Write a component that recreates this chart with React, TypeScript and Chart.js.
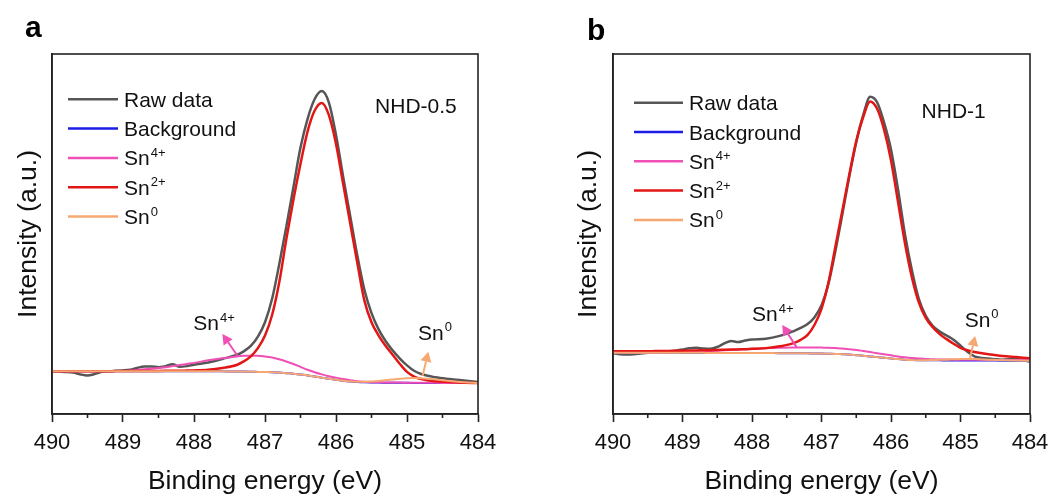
import React, { useEffect, useRef } from 'react';
import { Chart, registerables } from 'chart.js';

Chart.register(...registerables);

const FONT = '"Liberation Sans", Arial, Helvetica, sans-serif';

// ---------- shared axis / series definitions ----------
const xTickValues = [490, 489, 488, 487, 486, 485, 484];
const xMinorTickValues = [489.5, 488.5, 487.5, 486.5, 485.5, 484.5];
const seriesLabels = ['Raw data', 'Background', 'Sn^4+', 'Sn^2+', 'Sn^0'];
const seriesColors = ['#565656', '#1c1ce6', '#f04fb6', '#e31616', '#f6a872'];
const seriesWidths = [2.5, 2, 2, 2.5, 2];
const seriesOrder = [5, 4, 3, 2, 1];

// ---------- panel a (NHD-0.5) ----------
const energyA = [
  490, 489.9, 489.8, 489.7, 489.6, 489.5, 489.4, 489.3, 489.2, 489.1, 489.0,
  488.9, 488.8, 488.7, 488.6, 488.5, 488.4, 488.3, 488.2, 488.1, 488.0,
  487.8, 487.6, 487.4, 487.3, 487.2, 487.1, 487.0, 486.9, 486.8, 486.7, 486.6,
  486.5, 486.4, 486.3, 486.2, 486.1, 486.0, 485.9, 485.8, 485.7, 485.6,
  485.5, 485.4, 485.3, 485.2, 485.1, 485.0, 484.9, 484.8, 484.6, 484.4,
  484.2, 484.0,
];
const rawA = [
  11.9, 11.8, 11.7, 11.5, 11.0, 10.7, 11.1, 11.7, 11.9, 12.0, 12.1,
  12.3, 12.8, 13.2, 13.2, 13.0, 13.3, 13.8, 13.1, 13.3, 13.7,
  14.3, 15.3, 16.4, 17.4, 18.9, 21.5, 25.5, 32, 41.5, 52, 63,
  74, 82, 87.5, 89.7, 86.5, 77.5, 66, 55, 44, 34.5,
  28, 23.5, 20.2, 17.6, 15.4, 13.5, 12.0, 11.1, 10.2, 9.7,
  9.3, 8.9,
];
const backgroundA = [
  11.9, 11.9, 11.9, 11.9, 11.9, 11.9, 11.9, 11.9, 11.9, 11.9, 11.9,
  11.9, 11.9, 11.9, 11.9, 11.9, 11.9, 11.9, 11.9, 11.9, 11.9,
  11.9, 11.85, 11.8, 11.78, 11.75, 11.7, 11.65, 11.6, 11.5, 11.35, 11.2,
  11.0, 10.7, 10.4, 10.1, 9.8, 9.5, 9.25, 9.05, 8.9, 8.8,
  8.75, 8.72, 8.7, 8.68, 8.66, 8.65, 8.64, 8.63, 8.62, 8.61,
  8.6, 8.6,
];
const sn4A = [
  11.9, 11.9, 11.9, 11.9, 11.9, 11.9, 11.9, 11.92, 11.93, 11.94, 11.95,
  12.05, 12.2, 12.4, 12.6, 12.8, 13.0, 13.3, 13.6, 13.9, 14.2,
  14.9, 15.5, 16.0, 16.15, 16.2, 16.2, 16.0, 15.7, 15.2, 14.6, 13.9,
  13.1, 12.3, 11.6, 11.0, 10.5, 10.1, 9.7, 9.4, 9.1, 8.95,
  8.85, 8.8, 8.76, 8.74, 8.72, 8.7, 8.68, 8.67, 8.65, 8.63,
  8.61, 8.6,
];
const sn2A = [
  11.9, 11.9, 11.9, 11.9, 11.9, 11.9, 11.9, 11.9, 11.9, 11.91, 11.92,
  11.93, 11.94, 11.95, 11.96, 11.97, 11.98, 11.99, 12.0, 12.05, 12.1,
  12.3, 12.8, 13.6, 14.6, 16.0, 18.3, 21.8, 27.5, 36.5, 48.5, 59.5,
  69.5, 78.5, 84.3, 86.4, 83, 75, 64, 53, 42, 31.5,
  25.5, 21.8, 18.9, 16.4, 13.9, 11.7, 10.4, 9.7, 9.1, 8.9,
  8.7, 8.6,
];
const sn0A = [
  11.9, 11.9, 11.9, 11.9, 11.9, 11.9, 11.9, 11.9, 11.9, 11.9, 11.9,
  11.9, 11.9, 11.9, 11.9, 11.9, 11.9, 11.9, 11.9, 11.9, 11.9,
  11.9, 11.85, 11.8, 11.78, 11.75, 11.7, 11.65, 11.6, 11.5, 11.35, 11.2,
  11.0, 10.7, 10.4, 10.1, 9.8, 9.5, 9.25, 9.05, 8.95, 8.95,
  9.05, 9.2, 9.4, 9.6, 9.8, 9.95, 10.0, 9.95, 9.6, 9.15,
  8.8, 8.6,
];

// ---------- panel b (NHD-1) ----------
const energyB = [
  490, 489.9, 489.8, 489.7, 489.6, 489.5, 489.4, 489.3, 489.2, 489.1, 489.0,
  488.9, 488.8, 488.7, 488.6, 488.5, 488.4, 488.3, 488.2, 488.1, 488.0,
  487.8, 487.6, 487.4, 487.3, 487.2, 487.1, 487.0, 486.9, 486.8, 486.7, 486.6,
  486.5, 486.4, 486.3, 486.2, 486.1, 486.0, 485.9, 485.8, 485.7, 485.6,
  485.5, 485.4, 485.3, 485.2, 485.1, 485.0, 484.9, 484.8, 484.6, 484.4,
  484.2, 484.0,
];
const rawB = [
  16.9, 16.6, 16.5, 16.6, 16.8, 17.0, 17.2, 17.1, 17.3, 17.6, 17.9,
  18.3, 18.4, 18.2, 18.1, 18.6, 19.6, 20.3, 20.0, 20.4, 20.7,
  20.9, 21.7, 23.0, 23.9, 25.0, 26.9, 30.2, 36.2, 45.3, 55.5, 66,
  75.5, 83, 88.1, 86.6, 81, 73.5, 62.5, 50, 40, 32,
  27.3, 24.5, 22.9, 21.8, 20.6, 19.0, 17.3, 16.0, 15.4, 15.1,
  15.3, 14.6,
];
const backgroundB = [
  17.0, 17.0, 17.0, 17.0, 17.0, 17.0, 17.0, 17.0, 17.0, 17.0, 17.0,
  16.99, 16.98, 16.98, 16.97, 16.97, 16.96, 16.96, 16.95, 16.95, 16.95,
  16.95, 16.9, 16.9, 16.88, 16.85, 16.8, 16.8, 16.75, 16.7, 16.6, 16.5,
  16.35, 16.2, 16.0, 15.8, 15.6, 15.4, 15.25, 15.1, 15.0, 14.95,
  14.93, 14.92, 14.9, 14.89, 14.88, 14.87, 14.86, 14.85, 14.84, 14.82,
  14.81, 14.8,
];
const sn4B = [
  17.0, 17.0, 17.0, 17.01, 17.02, 17.05, 17.08, 17.1, 17.13, 17.16, 17.2,
  17.25, 17.3, 17.4, 17.5, 17.6, 17.7, 17.8, 17.9, 18.0, 18.1,
  18.25, 18.4, 18.5, 18.5, 18.5, 18.5, 18.45, 18.4, 18.3, 18.2, 18.0,
  17.8, 17.5, 17.2, 16.9, 16.6, 16.3, 16.0, 15.75, 15.55, 15.4,
  15.3, 15.2, 15.15, 15.12, 15.1, 15.08, 15.06, 15.05, 15.03, 15.02,
  15.01, 15.0,
];
const sn2B = [
  17.4, 17.41, 17.42, 17.43, 17.44, 17.45, 17.47, 17.49, 17.52, 17.56, 17.6,
  17.63, 17.66, 17.7, 17.73, 17.8, 17.85, 17.9, 17.95, 18.0, 18.1,
  18.3, 18.8, 19.7, 20.6, 22.0, 24.8, 29.2, 36.5, 46.5, 56.5, 66.5,
  75.8, 82.5, 86.8, 84.8, 79, 70.5, 59, 47.5, 38, 31,
  26.7, 24.1, 22.2, 20.8, 19.5, 18.4, 17.7, 17.2, 16.6, 16.1,
  15.8, 15.5,
];
const sn0B = [
  17.0, 17.0, 17.0, 17.0, 17.0, 17.0, 17.0, 17.0, 17.0, 17.0, 17.0,
  16.99, 16.98, 16.98, 16.97, 16.97, 16.96, 16.96, 16.95, 16.95, 16.95,
  16.95, 16.9, 16.9, 16.88, 16.85, 16.8, 16.8, 16.75, 16.7, 16.6, 16.5,
  16.35, 16.2, 16.0, 15.8, 15.6, 15.4, 15.25, 15.1, 15.0, 14.95,
  14.95, 15.0, 15.05, 15.1, 15.2, 15.25, 15.3, 15.25, 15.1, 14.95,
  14.85, 14.8,
];

// ---------- panel configuration ----------
type Note = { label: string; color: string; text: [number, number]; tail: [number, number]; head: [number, number] };
type PanelCfg = {
  left: number;
  letter: string;
  letterPos: [number, number];
  sample: string;
  samplePos: [number, number];
  energy: number[];
  series: number[][];
  yAxisWidth: number;
  padRight: number;
  yTitlePad: number;
  legendX: number;
  legendY: number;
  legendLen: number;
  notes: Note[];
};

const panelA: PanelCfg = {
  left: 0,
  letter: 'a',
  letterPos: [25, 36.5],
  sample: 'NHD-0.5',
  samplePos: [485.45, 83.5],
  energy: energyA,
  series: [rawA, backgroundA, sn4A, sn2A, sn0A],
  yAxisWidth: 52,
  padRight: 54,
  yTitlePad: 13,
  legendX: 16,
  legendY: 45.3,
  legendLen: 50,
  notes: [
    { label: 'Sn^4+', color: seriesColors[2], text: [488.01, 23.3], tail: [487.385, 16.1], head: [487.6, 22.2] },
    { label: 'Sn^0', color: seriesColors[4], text: [484.845, 20.6], tail: [484.78, 10.6], head: [484.7, 17.3] },
  ],
};

const panelB: PanelCfg = {
  left: 532,
  letter: 'b',
  letterPos: [55, 39.5],
  sample: 'NHD-1',
  samplePos: [485.56, 82.2],
  energy: energyB,
  series: [rawB, backgroundB, sn4B, sn2B, sn0B],
  yAxisWidth: 81,
  padRight: 34,
  yTitlePad: 41,
  legendX: 21,
  legendY: 48.7,
  legendLen: 49,
  notes: [
    { label: 'Sn^4+', color: seriesColors[2], text: [488.0, 25.7], tail: [487.357, 18.5], head: [487.564, 24.7] },
    { label: 'Sn^0', color: seriesColors[4], text: [484.94, 24.3], tail: [484.863, 15.5], head: [484.79, 21.7] },
  ],
};

// ---------- drawing helpers ----------
function drawRich(ctx: CanvasRenderingContext2D, label: string, x: number, y: number, size: number) {
  const [base, sup] = label.split('^');
  ctx.fillStyle = '#111';
  ctx.textAlign = 'left';
  ctx.textBaseline = 'alphabetic';
  ctx.font = `${size}px ${FONT}`;
  ctx.fillText(base, x, y);
  if (sup) {
    const w = ctx.measureText(base).width;
    ctx.font = `${Math.round(size * 0.63)}px ${FONT}`;
    ctx.fillText(sup, x + w + 1, y - size * 0.4);
  }
}

function drawArrow(ctx: CanvasRenderingContext2D, x1: number, y1: number, x2: number, y2: number, color: string) {
  const ang = Math.atan2(y2 - y1, x2 - x1);
  const c = Math.cos(ang);
  const s = Math.sin(ang);
  const hl = 10;
  const hw = 5.5;
  ctx.strokeStyle = color;
  ctx.fillStyle = color;
  ctx.lineWidth = 2;
  ctx.beginPath();
  ctx.moveTo(x1, y1);
  ctx.lineTo(x2 - hl * c, y2 - hl * s);
  ctx.stroke();
  ctx.beginPath();
  ctx.moveTo(x2, y2);
  ctx.lineTo(x2 - hl * c + hw * s, y2 - hl * s - hw * c);
  ctx.lineTo(x2 - hl * c - hw * s, y2 - hl * s + hw * c);
  ctx.closePath();
  ctx.fill();
}

function makeDecor(cfg: PanelCfg) {
  return {
    id: 'decor-' + cfg.letter,
    afterDraw(chart: any) {
      const { ctx, chartArea, scales } = chart;
      const xs = scales.x;
      const ys = scales.y;
      ctx.save();
      // frame
      ctx.strokeStyle = '#222';
      ctx.lineWidth = 1.6;
      ctx.strokeRect(chartArea.left, chartArea.top, chartArea.right - chartArea.left, chartArea.bottom - chartArea.top);
      // minor ticks
      xMinorTickValues.forEach((v) => {
        const px = xs.getPixelForValue(v);
        ctx.beginPath();
        ctx.moveTo(px, chartArea.bottom);
        ctx.lineTo(px, chartArea.bottom + 4);
        ctx.stroke();
      });
      // legend
      chart.data.datasets.forEach((ds: any, i: number) => {
        const y = chartArea.top + cfg.legendY + i * 29.3;
        const x0 = chartArea.left + cfg.legendX;
        ctx.strokeStyle = ds.borderColor;
        ctx.lineWidth = 2.5;
        ctx.beginPath();
        ctx.moveTo(x0, y);
        ctx.lineTo(x0 + cfg.legendLen, y);
        ctx.stroke();
        drawRich(ctx, ds.label, x0 + cfg.legendLen + 6, y + 7.5, 21);
      });
      // sample name
      ctx.font = `21px ${FONT}`;
      ctx.fillStyle = '#111';
      ctx.textAlign = 'left';
      ctx.textBaseline = 'alphabetic';
      ctx.fillText(cfg.sample, xs.getPixelForValue(cfg.samplePos[0]), ys.getPixelForValue(cfg.samplePos[1]));
      // annotations
      cfg.notes.forEach((n) => {
        drawRich(ctx, n.label, xs.getPixelForValue(n.text[0]), ys.getPixelForValue(n.text[1]), 21);
        drawArrow(
          ctx,
          xs.getPixelForValue(n.tail[0]),
          ys.getPixelForValue(n.tail[1]),
          xs.getPixelForValue(n.head[0]),
          ys.getPixelForValue(n.head[1]),
          n.color
        );
      });
      // panel letter
      ctx.font = `bold 30px ${FONT}`;
      ctx.fillStyle = '#000';
      ctx.textAlign = 'left';
      ctx.textBaseline = 'alphabetic';
      ctx.fillText(cfg.letter, cfg.letterPos[0], cfg.letterPos[1]);
      ctx.restore();
    },
  };
}

function Panel({ cfg }: { cfg: PanelCfg }) {
  const ref = useRef<HTMLCanvasElement>(null);
  useEffect(() => {
    if (!ref.current) return;
    const datasets = seriesLabels.map((label, i) => ({
      label,
      data: cfg.energy.map((e, k) => ({ x: e, y: cfg.series[i][k] })),
      borderColor: seriesColors[i],
      backgroundColor: seriesColors[i],
      borderWidth: seriesWidths[i],
      pointRadius: 0,
      fill: false,
      cubicInterpolationMode: 'monotone' as const,
      order: seriesOrder[i],
    }));
    const chart = new Chart(ref.current, {
      type: 'line',
      data: { datasets },
      options: {
        responsive: false,
        animation: false,
        devicePixelRatio: 1,
        layout: { padding: { left: 0, right: cfg.padRight, top: 54, bottom: 0 } },
        plugins: { legend: { display: false }, tooltip: { enabled: false } },
        scales: {
          x: {
            type: 'linear',
            min: 484,
            max: 490,
            reverse: true,
            afterBuildTicks: (s: any) => {
              s.ticks = xTickValues.map((v) => ({ value: v }));
            },
            afterFit: (s: any) => {
              s.height = 84;
            },
            ticks: {
              font: { size: 22, family: FONT },
              color: '#111',
              padding: 8,
              maxRotation: 0,
              autoSkip: false,
            },
            grid: {
              display: true,
              drawOnChartArea: false,
              drawTicks: true,
              tickLength: 8,
              tickWidth: 1.6,
              tickColor: '#222',
              color: '#222',
            },
            border: { display: true, color: '#222', width: 1.6 },
            title: {
              display: true,
              text: 'Binding energy (eV)',
              font: { size: 26.5, family: FONT },
              color: '#111',
              padding: { top: 0, bottom: 0 },
            },
          },
          y: {
            type: 'linear',
            min: 0,
            max: 100,
            afterFit: (s: any) => {
              s.width = cfg.yAxisWidth;
            },
            ticks: { display: false },
            grid: { display: false, drawTicks: false },
            border: { display: true, color: '#222', width: 1.6 },
            title: {
              display: true,
              text: 'Intensity (a.u.)',
              font: { size: 26.5, family: FONT },
              color: '#111',
              padding: { top: cfg.yTitlePad, bottom: 0 },
            },
          },
        },
      },
      plugins: [makeDecor(cfg)],
    });
    return () => chart.destroy();
  }, [cfg]);
  return (
    <canvas
      ref={ref}
      width={532}
      height={498}
      style={{ position: 'absolute', left: cfg.left, top: 0, width: 532, height: 498 }}
    />
  );
}

export default function App() {
  return (
    <div style={{ position: 'fixed', left: 0, top: 0, width: 1064, height: 498, background: '#fff' }}>
      <Panel cfg={panelA} />
      <Panel cfg={panelB} />
    </div>
  );
}
